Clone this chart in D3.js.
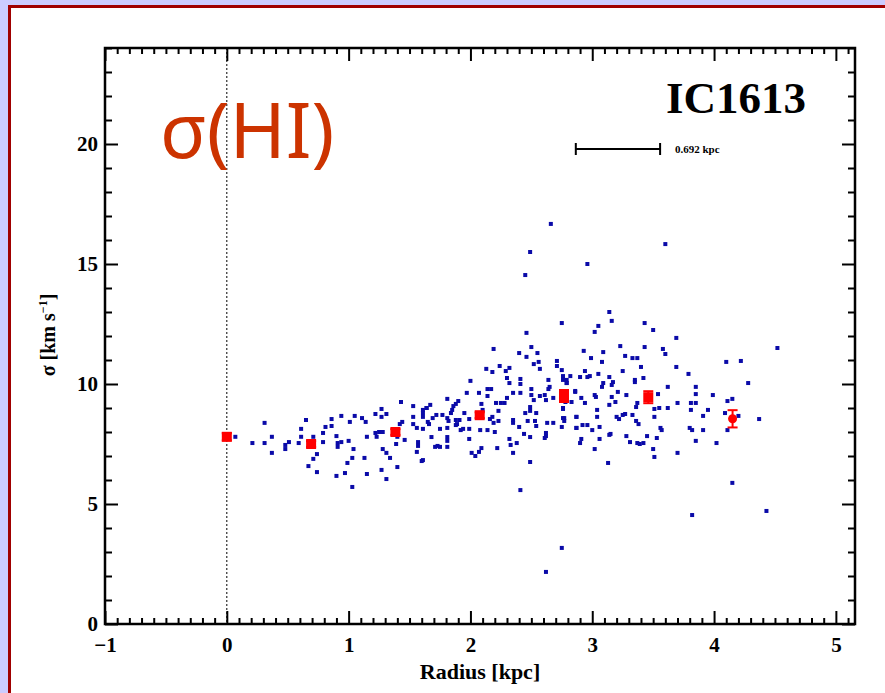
<!DOCTYPE html>
<html>
<head>
<meta charset="utf-8">
<title>IC1613 sigma(HI)</title>
<script src="https://cdn.jsdelivr.net/npm/d3@7"></script>
<style>
  body { margin: 0; background: #ccccff; }
  .lbl { font-family: "Liberation Serif", "Times New Roman", serif; font-weight: bold; }
</style>
</head>
<body>
<svg id="svg" width="885" height="693"></svg>
<script>
// individual HI dispersion measurements [radius kpc, sigma km/s]
var hiPoints = [
  [0.07,7.8],[0.21,7.54],[0.31,8.38],[0.31,7.54],[0.37,7.8],[0.37,7.13],[0.48,7.46],[0.48,7.29],[0.51,7.58],[0.59,7.54],
  [0.61,8.13],[0.61,7.8],[0.65,8.5],[0.71,7.8],[0.74,7.08],[0.71,6.88],[0.67,6.58],[0.74,6.33],[0.79,7.96],[0.79,7.58],
  [0.81,8.21],[0.86,8.54],[0.86,8.25],[0.9,7.83],[0.91,7.54],[0.91,7.38],[0.94,8.67],[0.94,7.58],[1.0,7.63],[1.01,8.42],
  [0.99,6.71],[1.03,6.92],[0.9,6.17],[0.97,6.29],[1.03,5.71],[1.05,8.67],[1.04,7.29],[1.11,8.58],[1.14,8.42],[1.15,7.8],
  [1.13,6.92],[1.15,6.25],[1.22,7.96],[1.23,7.8],[1.22,8.75],[1.25,8.0],[1.27,8.96],[1.27,8.63],[1.31,8.75],[1.28,8.0],
  [1.28,7.29],[1.31,7.13],[1.27,6.42],[1.31,6.04],[1.34,6.92],[1.4,6.54],[1.39,7.5],[1.4,7.8],[1.43,9.25],[1.42,8.33],
  [1.44,8.42],[1.46,7.67],[1.53,9.08],[1.53,8.63],[1.53,8.33],[1.56,8.17],[1.57,7.58],[1.57,7.42],[1.56,7.17],[1.6,6.79],
  [1.61,8.79],[1.61,8.13],[1.64,9.0],[1.65,8.42],
  [2.46,12.13],[2.19,11.46],[2.5,11.54],[2.4,11.29],[2.55,11.29],[2.46,11.13],[2.71,10.96],[2.71,10.75],[2.52,10.83],[2.56,10.92],
  [2.24,10.75],[2.13,10.63],[2.18,10.5],[2.29,10.54],[2.32,10.67],[2.57,10.63],[2.3,10.25],[2.32,10.04],[2.41,10.21],[2.41,10.0],
  [2.0,10.13],[2.64,10.17],[2.65,9.88],[2.76,10.33],[2.79,10.17],[2.82,10.33],[2.79,10.04],[2.86,9.67],[1.97,9.63],[2.07,9.63],
  [2.14,9.79],[2.14,9.5],[2.17,9.79],[2.35,9.63],[2.41,9.63],[2.5,9.79],[2.5,9.54],[2.57,9.5],[2.61,9.54],[2.64,9.79],
  [2.62,9.33],[2.68,9.42],[2.52,9.33],[1.81,9.38],[1.88,9.17],[1.86,9.08],[1.9,9.29],[2.09,9.17],[2.21,9.21],[2.25,9.21],
  [2.3,9.42],[2.28,9.21],[1.67,9.13],[1.64,9.0],[1.61,8.92],[1.85,8.92],[1.84,8.79],[1.95,8.79],[2.1,8.92],[2.23,8.88],
  [2.49,9.04],[2.49,8.88],[2.45,8.79],[2.54,8.79],[2.76,8.96],[1.72,8.71],[1.77,8.71],[1.69,8.58],[1.81,8.58],[1.88,8.5],
  [1.89,8.33],[2.18,8.63],[2.16,8.54],[1.61,8.63],[1.66,8.33],[1.82,8.46],[1.91,8.5],[1.99,8.54],[2.19,8.38],[2.23,8.46],
  [2.35,8.5],[2.35,8.38],[2.47,8.46],[2.53,8.46],[2.63,8.38],[2.68,8.38],[2.77,8.58],[2.75,8.21],[2.87,8.63],[2.87,8.17],
  [1.75,8.13],[1.81,8.17],[1.88,8.29],[1.92,8.08],[1.94,8.13],[1.99,8.13],[2.08,8.08],[2.14,8.08],[2.2,8.0],[2.4,8.21],
  [2.54,8.25],[2.62,7.96],[2.62,7.83],[2.44,7.92],[2.49,7.79],[1.68,7.79],[1.81,7.79],[1.81,7.63],[1.99,7.71],[2.32,7.71],
  [2.38,7.54],[2.33,7.46],[2.61,7.75],[1.71,7.38],[1.73,7.42],[1.75,7.38],[1.81,7.38],[2.09,7.33],[2.07,7.17],[2.22,7.33],
  [2.01,7.13],[2.04,7.0],[2.35,7.13],[1.61,6.83],[2.49,6.75],
  [3.14,13.0],[2.75,12.54],[3.16,12.63],[3.43,12.54],[3.5,12.25],[3.05,12.42],[3.02,12.17],[3.69,11.92],[3.23,11.58],[3.43,11.54],
  [2.93,11.38],[3.09,11.33],[3.58,11.46],[3.6,11.25],[3.27,11.17],[3.33,11.08],[3.37,11.08],[2.99,11.08],[3.08,10.92],[3.69,10.71],
  [3.4,10.71],[3.25,10.54],[2.94,10.54],[2.75,10.58],[3.79,10.42],[3.05,10.42],[2.9,10.29],[2.96,10.29],[2.98,10.33],[3.14,10.29],
  [3.35,10.17],[3.35,10.08],[3.42,10.25],[2.76,10.17],[3.09,10.04],[3.08,9.88],[3.17,10.08],[3.16,9.96],[2.79,10.04],[3.62,9.88],
  [3.85,9.88],[3.21,9.67],[3.28,9.54],[2.86,9.71],[3.02,9.54],[3.03,9.46],[3.16,9.46],[3.54,9.58],[3.85,9.58],[2.91,9.42],
  [2.78,9.25],[2.83,9.25],[2.94,9.21],[3.19,9.25],[3.37,9.21],[3.14,9.13],[3.7,9.21],[3.81,9.21],[3.85,9.21],[3.95,8.92],
  [3.55,9.0],[3.51,8.96],[3.62,9.0],[3.36,9.04],[3.04,8.92],[2.76,9.0],[3.81,8.92],[3.25,8.71],[3.27,8.75],[3.2,8.63],
  [3.22,8.54],[3.33,8.71],[3.04,8.63],[2.87,8.63],[2.76,8.58],[2.77,8.46],[3.51,8.63],[3.91,8.67],[3.36,8.46],[3.38,8.33],
  [3.06,8.21],[2.92,8.29],[2.96,8.29],[2.87,8.17],[3.56,8.17],[3.57,8.08],[3.8,8.17],[3.82,8.08],[3.91,8.08],[3.15,7.92],
  [3.14,7.88],[3.06,7.71],[2.91,7.71],[2.9,7.54],[3.0,8.08],[3.28,7.83],[3.31,7.58],[3.37,7.54],[3.39,7.5],[3.42,7.54],
  [3.45,7.83],[3.53,7.75],[3.85,7.63],[3.02,7.29],[3.5,7.29],[3.51,6.96],[3.7,7.13],[3.13,6.71],
  [4.52,11.5],[4.1,10.92],[4.22,10.96],[4.28,10.04],[3.99,9.54],[4.11,9.29],[4.15,9.38],[4.09,8.79],[4.2,8.67],[4.37,8.54],
  [4.11,8.08],[4.02,7.54],[4.15,5.88],[4.43,4.71],[3.82,4.54],
  [2.66,16.67],[2.49,15.5],[3.6,15.83],[2.96,15.0],[2.45,14.54],[2.75,3.17],[2.62,2.17],[2.41,5.58]
];

// binned means with errors
var binRadius = [0, 0.692, 1.384, 2.076, 2.768, 3.46, 4.152];
var binSigma  = [7.8, 7.5, 8.0, 8.7, 9.5, 9.45, 8.55];
var binErr    = [0.15, 0.12, 0.12, 0.12, 0.25, 0.25, 0.36];

var xMajor = [-1, 0, 1, 2, 3, 4, 5];
var yMajor = [0, 5, 10, 15, 20];

var svg = d3.select("#svg");

// slide frame
svg.append("rect").attr("width", 885).attr("height", 693).attr("fill", "#ccccff");
svg.append("rect").attr("x", 9.5).attr("y", 6.5).attr("width", 900).attr("height", 700)
  .attr("fill", "white").attr("stroke", "#a00000").attr("stroke-width", 3);

var L = 105, R = 855, T = 48, B = 624;
var x = d3.scaleLinear().domain([-1, 5.157]).range([L, R]);
var y = d3.scaleLinear().domain([0, 24]).range([B, T]);

var xMinor = d3.range(-10, 52).map(function(i){ return i/10; }).filter(function(v){ return v % 1 != 0; });
var yMinor = d3.range(0, 25).filter(function(v){ return v % 5 != 0; });

function styleAxis(g, labels){
  g.select(".domain").remove();
  g.selectAll("line").attr("stroke", "black").attr("stroke-width", 2);
  g.selectAll("text").attr("class", "lbl").attr("font-size", 21).attr("fill", "black");
  if(!labels) g.selectAll("text").remove();
}

// bottom
svg.append("g").attr("transform", "translate(0," + B + ")")
  .call(d3.axisBottom(x).tickValues(xMajor).tickSizeInner(-13).tickSizeOuter(0).tickPadding(13).tickFormat(d3.format("d")))
  .call(styleAxis, true);
svg.append("g").attr("transform", "translate(0," + B + ")")
  .call(d3.axisBottom(x).tickValues(xMinor).tickSizeInner(-6).tickSizeOuter(0)).call(styleAxis, false);
// top
svg.append("g").attr("transform", "translate(0," + T + ")")
  .call(d3.axisTop(x).tickValues(xMajor).tickSizeInner(-13).tickSizeOuter(0)).call(styleAxis, false);
svg.append("g").attr("transform", "translate(0," + T + ")")
  .call(d3.axisTop(x).tickValues(xMinor).tickSizeInner(-6).tickSizeOuter(0)).call(styleAxis, false);
// left
svg.append("g").attr("transform", "translate(" + L + ",0)")
  .call(d3.axisLeft(y).tickValues(yMajor).tickSizeInner(-13).tickSizeOuter(0).tickPadding(7))
  .call(styleAxis, true);
svg.append("g").attr("transform", "translate(" + L + ",0)")
  .call(d3.axisLeft(y).tickValues(yMinor).tickSizeInner(-7).tickSizeOuter(0)).call(styleAxis, false);
// right
svg.append("g").attr("transform", "translate(" + R + ",0)")
  .call(d3.axisRight(y).tickValues(yMajor).tickSizeInner(-13).tickSizeOuter(0)).call(styleAxis, false);
svg.append("g").attr("transform", "translate(" + R + ",0)")
  .call(d3.axisRight(y).tickValues(yMinor).tickSizeInner(-7).tickSizeOuter(0)).call(styleAxis, false);

// frame
svg.append("rect").attr("x", L).attr("y", T).attr("width", R - L).attr("height", B - T)
  .attr("fill", "none").attr("stroke", "black").attr("stroke-width", 2.5);

// dotted line at r=0
svg.append("line").attr("x1", x(0)).attr("x2", x(0)).attr("y1", T).attr("y2", B)
  .attr("stroke", "black").attr("stroke-width", 1).attr("stroke-dasharray", "2,2");

// big label
svg.append("text").attr("x", 160).attr("y", 158).attr("font-family", "Noto Sans, DejaVu Sans, sans-serif")
  .attr("font-size", 76).attr("fill", "#cc3300").text("σ(HI)");

// scatter
svg.append("g").selectAll("rect").data(hiPoints).enter().append("rect")
  .attr("x", function(d){ return x(d[0]) - 2; })
  .attr("y", function(d){ return y(d[1]) - 2; })
  .attr("width", 4).attr("height", 4).attr("fill", "#0a0aa8");

// binned points
var bins = binRadius.map(function(r, i){ return {r: r, s: binSigma[i], e: binErr[i], last: i == binRadius.length - 1}; });
var gb = svg.append("g").attr("stroke", "#ff0000").attr("stroke-width", 2);
bins.forEach(function(b){
  var cx = x(b.r);
  gb.append("line").attr("x1", cx).attr("x2", cx).attr("y1", y(b.s - b.e)).attr("y2", y(b.s + b.e));
  gb.append("line").attr("x1", cx - 5).attr("x2", cx + 5).attr("y1", y(b.s - b.e)).attr("y2", y(b.s - b.e));
  gb.append("line").attr("x1", cx - 5).attr("x2", cx + 5).attr("y1", y(b.s + b.e)).attr("y2", y(b.s + b.e));
  if(b.last){
    gb.append("circle").attr("cx", cx).attr("cy", y(b.s)).attr("r", 4.5).attr("fill", "#ff0000").attr("stroke", "none");
  } else {
    gb.append("rect").attr("x", cx - 5).attr("y", y(b.s) - 5).attr("width", 10).attr("height", 10)
      .attr("fill", "#ff0000").attr("stroke", "none");
  }
});

// galaxy name and scale bar
svg.append("text").attr("class", "lbl").attr("x", 666).attr("y", 113).attr("font-size", 45).text("IC1613");
var sb0 = 2.865, sbLen = 0.692, sbY = 149;
svg.append("line").attr("x1", x(sb0)).attr("x2", x(sb0 + sbLen)).attr("y1", sbY).attr("y2", sbY)
  .attr("stroke", "black").attr("stroke-width", 2);
[sb0, sb0 + sbLen].forEach(function(v){
  svg.append("line").attr("x1", x(v)).attr("x2", x(v)).attr("y1", sbY - 6).attr("y2", sbY + 6)
    .attr("stroke", "black").attr("stroke-width", 2);
});
svg.append("text").attr("class", "lbl").attr("x", 675).attr("y", 153).attr("font-size", 11).text("0.692 kpc");

// axis titles
svg.append("text").attr("class", "lbl").attr("x", (L + R) / 2).attr("y", 679).attr("text-anchor", "middle")
  .attr("font-size", 22).text("Radius [kpc]");
var yt = svg.append("text").attr("class", "lbl").attr("transform", "translate(55,335) rotate(-90)")
  .attr("text-anchor", "middle").attr("font-size", 20);
yt.append("tspan").text("σ [km s");
yt.append("tspan").attr("dy", -8).attr("font-size", 12).text("−1");
yt.append("tspan").attr("dy", 8).text("]");
</script>
</body>
</html>
